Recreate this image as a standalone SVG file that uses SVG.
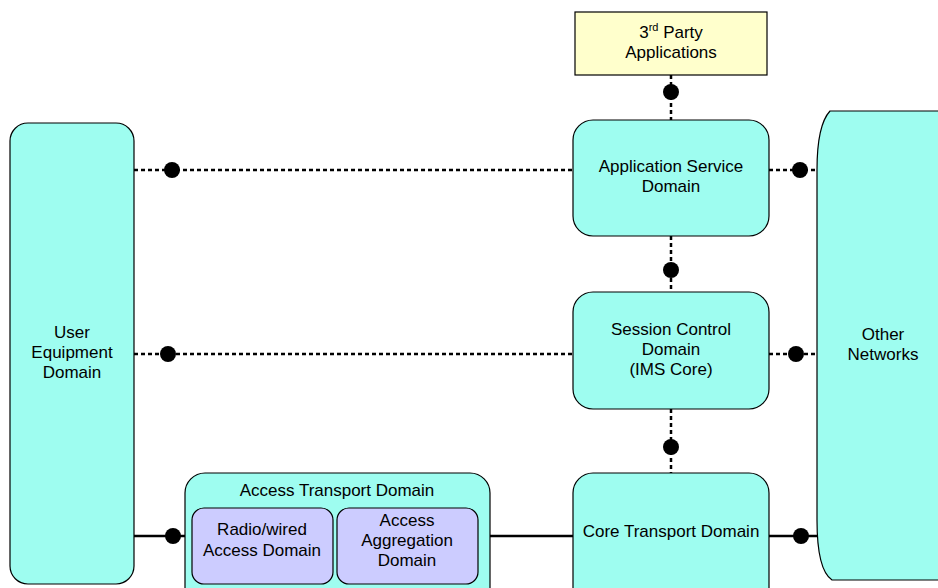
<svg xmlns="http://www.w3.org/2000/svg" width="938" height="588" viewBox="0 0 938 588">
  <style>
    .dom { fill: #9efdf0; stroke: #000; stroke-width: 1.2; }
    .sub { fill: #ccccff; stroke: #000; stroke-width: 1.2; }
    .app { fill: #ffffcc; stroke: #000; stroke-width: 1.2; }
    .lbl { font-family: "Liberation Sans", Arial, sans-serif; font-size: 17px; fill: #000; text-anchor: middle; }
    .dash { stroke: #000; stroke-width: 2.5; stroke-dasharray: 4 3; fill: none; }
    .solid { stroke: #000; stroke-width: 2.5; fill: none; }
    .dot { fill: #000; }
  </style>

  <!-- interfaces between domains -->
  <g id="connectors">
    <line class="dash" x1="134" y1="170" x2="573" y2="170"/>
    <circle class="dot" cx="172" cy="170" r="8"/>
    <line class="dash" x1="769" y1="170" x2="817" y2="170"/>
    <circle class="dot" cx="800" cy="170" r="8"/>

    <line class="dash" x1="134" y1="354" x2="573" y2="354"/>
    <circle class="dot" cx="168" cy="354" r="8"/>
    <line class="dash" x1="769" y1="354" x2="817" y2="354"/>
    <circle class="dot" cx="796" cy="354" r="8"/>

    <line class="dash" x1="671" y1="75" x2="671" y2="120"/>
    <circle class="dot" cx="671" cy="92" r="8"/>
    <line class="dash" x1="671" y1="236" x2="671" y2="292"/>
    <circle class="dot" cx="671" cy="270" r="8"/>
    <line class="dash" x1="671" y1="409" x2="671" y2="473"/>
    <circle class="dot" cx="671" cy="447" r="8"/>

    <line class="solid" x1="134" y1="536" x2="185" y2="536"/>
    <circle class="dot" cx="173" cy="536" r="8"/>
    <line class="solid" x1="490" y1="536" x2="573" y2="536"/>
    <line class="solid" x1="769" y1="536" x2="817" y2="536"/>
    <circle class="dot" cx="801" cy="536" r="8"/>
  </g>

  <g id="third-party">
    <rect class="app" x="575" y="12" width="192" height="63"/>
    <text class="lbl" x="671" y="38">3<tspan font-size="11" dy="-7">rd</tspan><tspan dy="7"> Party</tspan></text>
    <text class="lbl" x="671" y="58">Applications</text>
  </g>

  <g id="user-equipment">
    <rect class="dom" x="10" y="123" width="124" height="461" rx="18" ry="18"/>
    <text class="lbl" x="72" y="338">User</text>
    <text class="lbl" x="72" y="358">Equipment</text>
    <text class="lbl" x="72" y="378">Domain</text>
  </g>

  <g id="application-service">
    <rect class="dom" x="573" y="120" width="196" height="116" rx="20" ry="20"/>
    <text class="lbl" x="671" y="172">Application Service</text>
    <text class="lbl" x="671" y="192">Domain</text>
  </g>

  <g id="session-control">
    <rect class="dom" x="573" y="292" width="196" height="117" rx="20" ry="20"/>
    <text class="lbl" x="671" y="335">Session Control</text>
    <text class="lbl" x="671" y="355">Domain</text>
    <text class="lbl" x="671" y="375">(IMS Core)</text>
  </g>

  <g id="core-transport">
    <rect class="dom" x="573" y="473" width="196" height="140" rx="20" ry="20"/>
    <text class="lbl" x="671" y="537">Core Transport Domain</text>
  </g>

  <g id="other-networks">
    <path class="dom" d="M945 111 L830 111 Q817 125 817 170 L817 520 Q817 570 832 580 L945 580 Z"/>
    <text class="lbl" x="883" y="340">Other</text>
    <text class="lbl" x="883" y="360">Networks</text>
  </g>

  <g id="access-transport">
    <rect class="dom" x="185" y="473" width="305" height="140" rx="20" ry="20"/>
    <text class="lbl" x="337" y="496">Access Transport Domain</text>
  </g>

  <g id="radio-access">
    <rect class="sub" x="192" y="508" width="141" height="76" rx="12" ry="12"/>
    <text class="lbl" x="262" y="535">Radio/wired</text>
    <text class="lbl" x="262" y="556">Access Domain</text>
  </g>

  <g id="access-aggregation">
    <rect class="sub" x="337" y="508" width="141" height="76" rx="12" ry="12"/>
    <text class="lbl" x="407" y="526">Access</text>
    <text class="lbl" x="407" y="546">Aggregation</text>
    <text class="lbl" x="407" y="566">Domain</text>
  </g>
</svg>
